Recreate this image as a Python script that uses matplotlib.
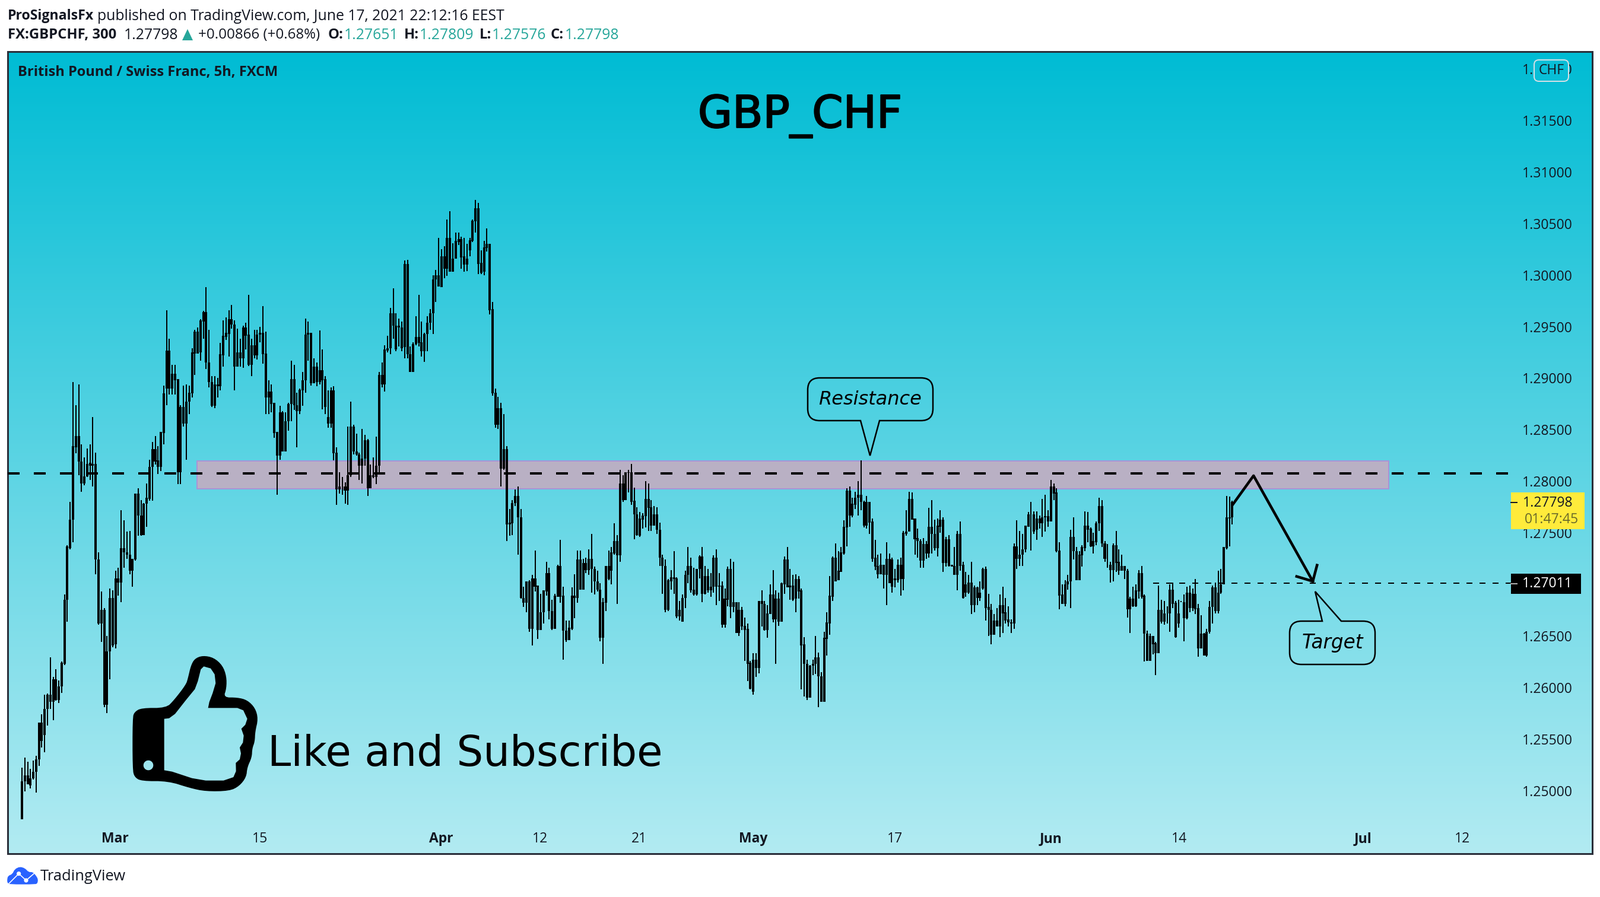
import numpy as np
import matplotlib
matplotlib.use('Agg')
import matplotlib.pyplot as plt
import matplotlib.patheffects as pe
from matplotlib.colors import LinearSegmentedColormap
from matplotlib.patches import PathPatch, Rectangle, FancyBboxPatch, Polygon, Circle
from matplotlib.path import Path

# candles, in pips above 1.2000
highs = [
    522,532,528,521,529,534,566,574,593,594,629,610,618,607,625,690,738,780,896,874,894,836,823,832,836,862,828,731,693,677,650,696,694,713,716,772,762,751,752,725,788,793,782,779,798,821,838,844,834,848,893,
    966,938,913,913,899,
    874,893,894,893,929,947,949,957,965,988,947,902,902,900,934,956,959,966,971,956,948,938,951,954,981,938,947,947,950,970,945,898,894,876,848,873,868,867,876,917,913,886,890,906,958,955,944,919,915,946,928,902,888,891,892,833,809,804,799,853,877,855,846,828,851,845,841,816,823,843,906,915,932,941,968,987,963,958,955,
    1014,1015,931,935,960,981,955,944,960,967,1000,1005,1036,1025,1028,1054,1062,1031,1041,1041,1037,1036,1030,1036,1054,1073,1070,1024,1033,1045,1030,974,890,882,876,865,834,773,782,792,795,773,698,703,704,709,733,699,691,694,722,716,685,691,719,743,698,665,665,
    697,710,733,733,725,726,734,749,717,713,701,687,718,733,736,759,748,811,806,809,811,817,794,775,770,769,800,798,782,776,775,760,729,724,705,714,732,707,684,690,713,736,726,716,715,728,736,718,715,711,728,734,711,703,696,717,725,722,683,683,678,668,662,626,633,633,684,694,684,680,700,714,694,692,702,727,736,715,709,710,708,696,649,627,622,627,650,634,615,654,673,708,727,740,732,736,762,793,795,784,
    790,800,820,781,786,780,764,743,729,730,719,741,730,726,715,724,726,752,772,790,789,764,754,744,745,742,774,782,763,764,772,765,746,748,719,736,752,761,722,712,709,722,699,698,703,716,717,691,681,671,677,690,698,687,679,666,740,762,752,749,757,770,780,771,771,767,783,787,772,801,798,793,741,700,704,709,753,765,736,732,738,771,770,755,750,761,784,782,742,739,722,740,752,734,729,718,715,688,698,700,714,718,690,655,652,650,644,699,685,684,679,700,702,684,685,684,690,698,699,696,705,681,670,653,657,684,699,702,713,715,736,786,785,781,
]
body_tops = [
    509,515,515,512,518,530,566,566,579,593,593,608,608,601,624,685,737,763,834,844,844,819,805,817,818,817,817,724,675,675,635,687,687,706,706,735,735,731,729,725,788,788,767,778,784,814,831,831,820,848,885,
    927,927,904,904,899,
    872,872,877,886,925,945,945,956,964,964,915,896,894,894,923,941,944,957,957,952,925,925,949,949,942,932,932,942,944,944,924,887,887,876,848,867,867,858,875,899,899,874,889,898,942,944,944,911,911,908,908,899,862,888,888,828,795,795,795,806,853,853,829,826,822,840,840,806,806,815,903,903,928,929,963,963,951,951,949,
    1011,1011,923,933,940,940,935,943,954,963,996,1000,1000,1018,1018,1036,1036,1016,1033,1035,1035,1018,1016,1034,1053,1065,1065,1012,1027,1030,1030,967,886,871,871,831,831,760,779,786,786,765,687,703,703,706,706,699,673,694,711,711,674,689,718,718,689,655,658,
    689,689,724,724,721,721,725,725,715,703,695,683,718,718,731,742,742,798,798,809,809,809,781,768,764,767,783,783,775,768,768,753,726,718,704,707,707,706,675,687,709,718,718,695,715,727,727,708,708,698,726,726,699,699,686,715,715,683,683,675,675,660,657,624,627,627,684,684,681,672,690,690,686,686,701,724,724,699,699,705,705,694,642,623,621,623,629,629,611,648,663,689,726,726,713,731,756,791,791,778,
    784,787,787,780,780,780,761,726,718,719,719,725,725,724,706,719,719,750,751,783,783,764,745,742,739,739,756,756,749,757,763,763,744,744,719,718,749,749,719,700,702,702,697,697,692,715,715,678,675,665,665,680,680,673,666,663,737,737,729,734,757,768,768,768,764,764,765,766,766,795,795,789,733,690,700,703,746,746,732,729,736,757,757,754,742,759,776,776,740,719,719,738,738,722,718,718,713,686,686,694,711,711,689,652,650,650,643,675,675,672,672,695,695,682,672,683,683,692,692,691,691,677,652,652,654,678,697,697,692,700,736,765,765,780,
]
body_bots = [
    472,509,506,505,512,518,530,548,554,579,586,586,588,588,601,623,685,735,763,833,819,798,798,805,815,815,724,662,662,583,583,635,641,642,702,702,731,729,713,713,724,767,748,748,778,783,814,819,814,814,847,
    890,890,890,898,809,
    809,856,856,877,885,924,924,925,955,915,896,873,873,892,892,922,940,943,952,911,911,919,919,941,913,913,922,922,942,923,881,881,875,847,825,825,829,829,858,875,874,868,868,888,898,942,895,895,896,896,898,872,856,856,827,792,792,795,791,791,806,829,826,815,815,822,793,793,804,804,815,894,894,927,929,951,928,949,929,
    930,923,906,906,933,934,926,926,943,954,963,996,989,988,1006,1006,1003,1003,1016,1032,1017,1010,1010,1024,1033,1052,1011,1002,1003,1026,966,885,855,855,812,812,758,758,759,779,765,687,682,682,657,657,698,656,656,673,693,674,657,657,688,688,655,646,646,
    657,687,687,695,695,714,714,715,703,695,648,648,682,705,713,730,728,728,782,782,808,780,768,748,747,763,766,774,757,757,753,726,718,675,675,703,705,669,669,664,687,709,694,690,690,715,691,691,694,694,698,698,698,661,661,685,678,678,653,653,659,656,623,599,596,619,619,681,656,656,671,666,666,664,664,700,697,697,685,686,693,641,623,590,590,621,623,611,586,586,647,662,688,703,704,712,730,755,767,767,
    777,784,780,757,757,760,725,717,710,710,709,709,701,698,704,704,705,705,749,751,763,744,742,723,723,730,730,749,735,735,756,721,721,718,717,709,709,718,687,692,692,680,680,687,687,696,677,675,651,651,659,659,672,665,663,662,662,725,725,729,734,756,768,751,753,759,759,765,761,761,788,732,689,681,681,700,703,732,704,704,728,735,753,737,737,741,759,740,725,719,714,714,721,713,713,713,676,676,679,679,693,688,652,626,626,642,633,633,664,664,672,672,681,649,662,683,667,667,677,677,676,638,638,631,631,654,678,674,674,692,700,735,764,765,
]
lows = [
    472,499,506,502,511,498,524,542,537,563,579,568,587,585,595,622,664,734,741,827,806,790,796,804,801,795,710,661,644,581,575,608,639,638,689,683,716,725,710,698,723,747,747,748,756,781,781,816,807,810,836,
    874,884,884,884,797,
    797,853,821,865,881,903,924,917,938,909,891,872,871,881,888,911,937,921,948,888,911,911,910,928,912,902,919,918,935,914,865,865,867,842,787,821,829,829,849,858,869,833,865,873,886,917,893,895,892,894,870,865,852,852,820,777,788,787,778,777,804,826,825,801,798,815,786,793,803,797,807,891,887,925,923,938,926,931,926,
    919,919,906,906,932,931,921,916,926,947,943,974,989,988,997,999,1003,1003,1016,1029,1006,1003,1004,1018,1032,1041,1001,1001,1000,1023,962,883,852,851,795,811,742,747,748,776,729,686,678,673,654,641,693,647,656,662,689,666,656,657,688,682,627,644,646,
    656,667,682,695,695,711,709,692,690,693,645,623,674,704,700,729,681,722,780,782,789,777,744,747,746,754,755,752,752,757,749,718,691,673,674,695,691,667,665,664,677,701,692,689,689,706,683,690,692,688,692,680,684,658,658,679,667,673,653,650,656,626,606,598,593,610,614,659,655,648,671,663,623,660,664,691,697,685,684,673,686,598,591,588,590,612,613,581,586,586,631,651,684,703,704,712,729,737,756,765,
    773,767,772,755,754,749,722,714,706,710,696,680,701,692,697,702,689,694,747,751,763,729,726,716,716,725,726,730,733,727,750,712,717,717,717,709,694,713,686,688,691,671,673,680,684,695,665,650,642,651,659,649,653,662,659,653,657,715,718,718,731,756,733,749,743,754,746,751,756,761,782,731,676,681,679,695,677,724,704,704,717,732,741,736,730,738,752,736,722,716,702,703,712,709,713,705,668,653,678,678,686,686,625,626,626,632,612,633,662,661,662,654,677,648,658,683,645,666,673,674,671,630,638,631,630,652,662,672,672,691,700,734,737,758,
]
if not (len(highs) == len(body_tops) == len(body_bots) == len(lows)):
    raise ValueError(f'lengths {len(highs)} {len(body_tops)} {len(body_bots)} {len(lows)}')

price_ticks = [1.25, 1.255, 1.26, 1.265, 1.27, 1.275, 1.28, 1.285, 1.29, 1.295, 1.30, 1.305, 1.31, 1.315, 1.32]
date_ticks = [32.9, 84, 147.8, 182.8, 217.7, 257.9, 308, 363, 408.3, 473, 508.2]
date_labels = ['Mar', '15', 'Apr', '12', '21', 'May', '17', 'Jun', '14', 'Jul', '12']
month_labels = ['Mar', 'Apr', 'May', 'Jun', 'Jul']

resistance = 1.28077
zone_top = 1.28196
zone_bot = 1.27929
target = 1.27011
last_close = 1.27798

W, H = 2696, 1512
DARK = '#131722'
GREEN = '#26a69a'
FONT = 'Open Sans'
px = 0.72  # points per pixel at dpi 100

fig = plt.figure(figsize=(W / 100, H / 100), dpi=100, facecolor='white')
ax = fig.add_axes([13 / W, 1 - 1439 / H, (2683 - 13) / W, (1439 - 87) / H])

# background gradient
cmap = LinearSegmentedColormap.from_list('bg', ['#00bcd4', '#b2ebf2'])
ax.imshow(np.linspace(0, 1, 512).reshape(-1, 1), cmap=cmap, aspect='auto',
          extent=(0, 1, 0, 1), transform=ax.transAxes, zorder=0)

xs = np.arange(len(highs))
p = lambda v: 1.2 + np.array(v) / 10000

# zone and levels
ax.add_patch(Rectangle((61.8, zone_bot), 482.2 - 61.8, zone_top - zone_bot, facecolor='#b9b0c4',
                       edgecolor='#a993d6', linewidth=2 * px, zorder=1))
ax.plot([-5, 527], [resistance, resistance], color='black', lw=4 * px, dashes=(5, 6),
        dash_capstyle='butt', zorder=4)
ax.plot([399, 525.3], [target, target], color='black', lw=2 * px, dashes=(5, 6),
        dash_capstyle='butt', zorder=4)

# candles
ax.vlines(xs, p(lows), p(highs), color='black', lw=2 * px, capstyle='butt', zorder=3)
ax.bar(xs, p(body_tops) - p(body_bots), bottom=p(body_bots), width=0.84, color='black', linewidth=0, zorder=3)

# projected move
ax.plot([427.1, 434.5, 455.4], [1.27772, 1.28054, 1.2703], color='black', lw=4.5 * px, zorder=5)
ax.plot([449.7, 455.4, 456.9], [1.27077, 1.2703, 1.27186], color='black', lw=4.5 * px, zorder=5)

ax.set_xlim(-5.03, 554)
ax.set_ylim(1.24388, 1.32167)

ax.yaxis.tick_right()
ax.set_yticks(price_ticks)
ax.set_yticklabels(['%.5f' % v for v in price_ticks], fontname=FONT, fontsize=16.5, color=DARK, ha='right')
ax.tick_params(axis='y', length=0, pad=-33 * px)
ax.set_xticks(date_ticks)
ax.set_xticklabels(date_labels, fontname=FONT, fontsize=16.5, color=DARK)
ax.tick_params(axis='x', length=0, pad=-37 * px)
for lab in ax.get_xticklabels():
    if lab.get_text() in month_labels:
        lab.set_fontweight('bold')
for s in ax.spines.values():
    s.set_color('#2a2e39')
    s.set_linewidth(3 * px)

# overlay in pixel units for the drawn furniture
ov = fig.add_axes([0, 0, 1, 1], zorder=5)
ov.set_xlim(0, W)
ov.set_ylim(H, 0)
ov.axis('off')


def txt(x, y, s, size=16.5, color=DARK, weight='normal', ha='left', family=FONT, style='normal'):
    return ov.text(x, y, s, fontsize=size, color=color, fontweight=weight, ha=ha, va='center',
                   fontname=family, fontstyle=style)


# header
txt(13, 27, 'ProSignalsFx', size=16.7, weight='bold')
txt(164, 27, 'published on TradingView.com, June 17, 2021 22:12:16 EEST', size=17.8)
txt(13, 59, 'FX:GBPCHF, 300', size=17.2, weight='bold')
txt(209, 59, '1.27798', size=17.8)
ov.add_patch(Polygon([(307, 68), (316, 49), (325, 68)], color=GREEN, lw=0))
txt(334, 59, '+0.00866 (+0.68%)', size=17.4)
for x, s in [(553, 'O:'), (681, 'H:'), (808, 'L:'), (928, 'C:')]:
    txt(x, 59, s, size=17.2, weight='bold')
for x, s in [(580, '1.27651'), (707, '1.27809'), (829, '1.27576'), (952, '1.27798')]:
    txt(x, 59, s, size=17.8, color=GREEN)

txt(30, 122, 'British Pound / Swiss Franc, 5h, FXCM', size=17, weight='bold')
title = txt(1348, 196, 'GBP_CHF', size=54, color='black', ha='center', family='DejaVu Sans')
title.set_path_effects([pe.withStroke(linewidth=1.5, foreground='black')])
txt(451, 1271, 'Like and Subscribe', size=50.9, color='black', family='DejaVu Sans')

# CHF badge
ov.add_patch(FancyBboxPatch((2589, 105), 50, 28, boxstyle='round,pad=4,rounding_size=8', facecolor='#08bed7',
                            edgecolor='#d6dfe5', lw=2 * px, zorder=3))
t = txt(2614, 119, 'CHF', ha='center')
t.set_zorder(4)

# price labels
ov.add_patch(Rectangle((2546, 830), 124, 62, facecolor='#ffeb3b', edgecolor='none'))
ov.plot([2546, 2556], [847, 847], color='#131722', lw=2 * px)
txt(2650, 848, '%.5f' % last_close, ha='right')
txt(2660, 876, '01:47:45', color='#6b6a2a', ha='right')
ov.add_patch(Rectangle((2546, 967), 118, 34, facecolor='black', edgecolor='none'))
ov.plot([2546, 2556], [984, 984], color='#b0b0b0', lw=2 * px)
txt(2650, 984, '%.5f' % target, color='white', ha='right')


def callout(x0, y0, x1, y1, r, tail, below):
    v = [(x0 + r, y0)]
    c = [Path.MOVETO]
    if not below:
        v += tail
        c += [Path.LINETO] * 3
    v += [(x1 - r, y0), (x1, y0), (x1, y0 + r), (x1, y1 - r), (x1, y1), (x1 - r, y1)]
    c += [Path.LINETO, Path.CURVE3, Path.CURVE3, Path.LINETO, Path.CURVE3, Path.CURVE3]
    if below:
        v += tail
        c += [Path.LINETO] * 3
    v += [(x0 + r, y1), (x0, y1), (x0, y1 - r), (x0, y0 + r), (x0, y0), (x0 + r, y0)]
    c += [Path.LINETO, Path.CURVE3, Path.CURVE3, Path.LINETO, Path.CURVE3, Path.CURVE3]
    ov.add_patch(PathPatch(Path(v, c), facecolor='none', edgecolor='black', lw=2.5 * px))


callout(1361, 637, 1572, 709, 20, [(1482, 709), (1466, 768), (1450, 709)], True)
txt(1466, 674, 'Resistance', size=23, color='black', ha='center', family='DejaVu Sans', style='italic')
callout(2173, 1047, 2317, 1120, 20, [(2228, 1047), (2216, 997), (2260, 1047)], False)
txt(2245, 1084, 'Target', size=23.5, color='black', ha='center', family='DejaVu Sans', style='italic')


def chaikin(pts, n=2):
    pts = np.array(pts, float)
    for _ in range(n):
        nxt = np.roll(pts, -1, axis=0)
        pts = np.column_stack([0.75 * pts + 0.25 * nxt, 0.25 * pts + 0.75 * nxt]).reshape(-1, 2)
    return pts


# thumb icon, traced in a 3x crop
outer = [(115,340),(240,340),(280,300),(340,222),(350,190),(365,125),(385,90),(425,75),(480,85),(525,125),(545,180),(545,240),(530,287),(600,287),(650,300),(690,340),(705,395),(690,460),(688,510),(675,545),(673,590),(650,640),(645,690),(610,735),(560,760),(440,762),(360,745),(250,710),(115,710),(80,690),(70,650),(70,390),(80,360)]
inner = [(230,395),(255,392),(285,370),(340,300),(385,245),(400,205),(415,145),(430,130),(465,140),(485,170),(490,215),(475,265),(458,310),(452,340),(600,340),(630,352),(650,395),(640,425),(620,445),(632,480),(628,515),(612,540),(618,570),(612,600),(592,618),(593,660),(580,690),(530,707),(440,707),(370,695),(270,662),(230,655)]
ang = np.linspace(2 * np.pi, 0, 24, endpoint=False)
hole = np.column_stack([150 + 25 * np.cos(ang), 630 + 25 * np.sin(ang)])
rings = [chaikin(outer), np.array(inner, float)[::-1], hole]
verts = np.vstack([np.vstack([r, r[0]]) for r in rings]) / 3 + (200, 1080)
codes = []
for r in rings:
    codes += [Path.MOVETO] + [Path.LINETO] * (len(r) - 1) + [Path.CLOSEPOLY]
ov.add_patch(PathPatch(Path(verts, codes), facecolor='black', edgecolor='none'))

# TradingView logo
cloud = [(36,310),(40,290),(62,280),(75,255),(100,243),(125,250),(145,270),(165,270),(180,285),(192,305),(190,325),(180,332),(50,332),(38,325)]
ov.add_patch(Polygon(chaikin(cloud, 1) / 3 + (0, 1380), facecolor='#2962ff', edgecolor='none'))
line = np.array([(45,328),(95,278),(132,312),(178,272)]) / 3 + (0, 1380)
ov.plot(line[:, 0], line[:, 1], color='white', lw=1.6 * px)
for cx, cy in line[1:3]:
    ov.add_patch(Circle((cx, cy), 3.6, facecolor='white', edgecolor='none'))
txt(68, 1478, 'TradingView', size=18.4)

fig.savefig('out.png', dpi=100)
